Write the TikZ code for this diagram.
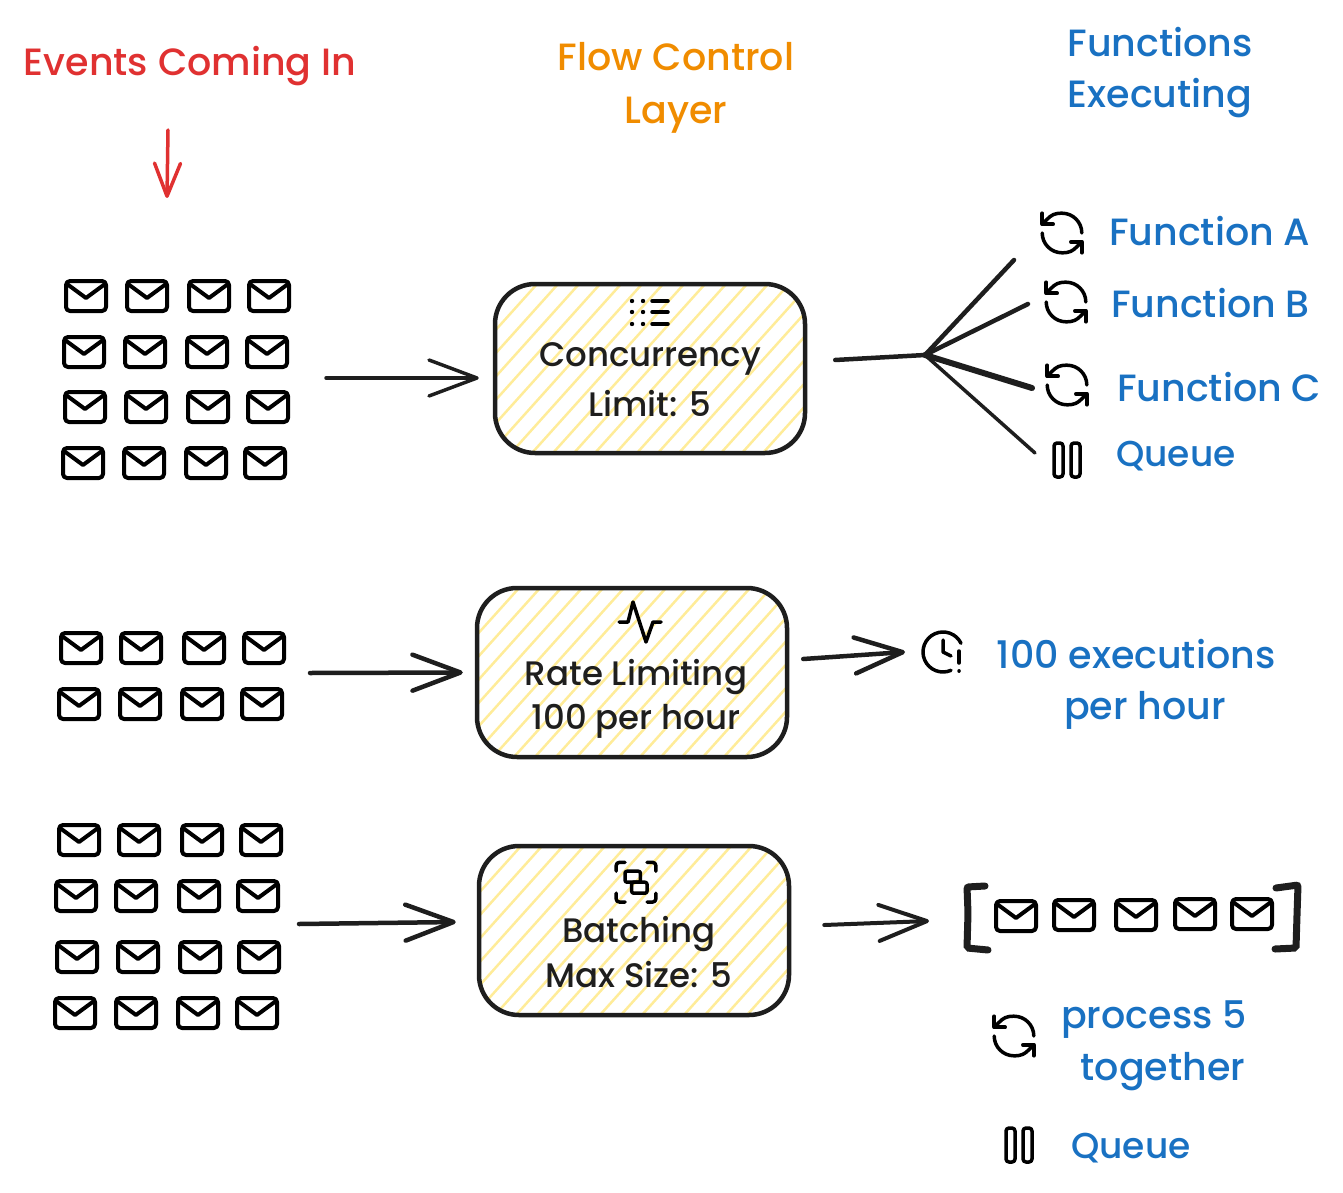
\documentclass[tikz,border=0pt]{standalone}
\usepackage{fontspec}
\setmainfont{Poppins Medium}
\usetikzlibrary{arrows.meta}

\definecolor{inkred}{HTML}{E03131}
\definecolor{inkorange}{HTML}{F08C00}
\definecolor{inkblue}{HTML}{1971C2}
\definecolor{inkblack}{HTML}{1E1E1E}
\definecolor{hatchyellow}{HTML}{FFEC99}

\tikzset{
  txt/.style={align=center,inner sep=0pt,font=\fontsize{#1}{#1}\selectfont},
  txt/.default=38,
  conn/.style={draw=inkblack,line width=4.5pt,line cap=round},
  arrowline/.style={conn,-{Straight Barb[round,length=48pt,width=36pt]}},
  limitbox/.style={draw=inkblack,line width=4.5pt,rounded corners=40pt,minimum width=310pt,minimum height=169pt,
    path picture={
      \foreach \d in {-252,-231,...,252}{
        \draw[hatchyellow,line width=2.5pt] (\d-90,100) -- (\d+90,-100);
      }
    }},
  icon/.style={line width=3.5pt,line cap=round,line join=round,black},
  mailicon/.pic={
    \draw[icon,line width=4pt,rounded corners=4pt] (-20,-15) rectangle (20,15);
    \draw[icon,line width=4pt] (-19,-12) -- (0,2) -- (19,-12);
  },
  refreshicon/.pic={
    \begin{scope}[x=2.2pt,y=-2.2pt,shift={(-12,-12)},icon]
    \draw (21,12) arc[start angle=0,end angle=-90,radius=9] .. controls (8.5,3) and (7.2,3.8) .. (5.26,5.74) -- (3,8);
    \draw (3,3) -- (3,8) -- (8,8);
    \draw (3,12) arc[start angle=180,end angle=90,radius=9] .. controls (15.5,21) and (16.8,20.2) .. (18.74,18.26) -- (21,16);
    \draw (16,16) -- (21,16) -- (21,21);
    \end{scope}
  },
  pauseicon/.pic={
    \draw[icon,rounded corners=3pt] (-13,-17) rectangle (-4,17);
    \draw[icon,rounded corners=3pt] (4,-17) rectangle (13,17);
  },
}

\begin{document}
\begin{tikzpicture}[x=1pt,y=-1pt]
\useasboundingbox (0,0) rectangle (1343,1193);

% column headings
\node[txt,inkred] (eventshead) at (190,66) {Events Coming In};
\node[txt,inkorange] (flowhead) at (676,88) {Flow Control\\[15pt]Layer};
\node[txt,inkblue] (funchead) at (1160,73) {Functions\\[13pt]Executing};

\coordinate (redtop) at (168,130);
\coordinate (redtip) at (167,198);
\draw[inkred,line width=3.5pt,line cap=round,-{Straight Barb[round,length=33pt,width=26pt]}] (redtop) -- (redtip);

% the three boxes
\node[limitbox] (conc) at (650,368.5) {};
\node[limitbox] (rate) at (632,672.5) {};
\node[limitbox] (batch) at (634,930.5) {};

\node[txt=34,inkblack] (conctext) at (650,380) {Concurrency\\[14pt]Limit: 5};
\node[txt=34,inkblack] (ratetext) at (636,699) {Rate Limiting\\[8pt]100 per hour};
\node[txt=34,inkblack] (batchtext) at (639,952) {Batching\\[8pt]Max Size: 5};

% icons in the boxes
\begin{scope}[icon]
\foreach \y in {301,312,324}{
  \fill (632,\y) circle (2.2pt);
  \fill (643,\y) circle (2.2pt);
  \draw (652,\y) -- (668,\y);
}
\draw (619,622) -- (628,622) -- (633,602) -- (646,642) -- (653,622) -- (661,622);
\begin{scope}[x=2.2pt,y=-2.2pt,shift={(277.1,389)}]
\draw[rounded corners=3pt] (3,7) -- (3,3) -- (7,3);
\draw[rounded corners=3pt] (17,3) -- (21,3) -- (21,7);
\draw[rounded corners=3pt] (21,17) -- (21,21) -- (17,21);
\draw[rounded corners=3pt] (7,21) -- (3,21) -- (3,17);
\draw[rounded corners=2pt] (7,7) rectangle (14,12);
\draw[rounded corners=2pt] (10,12) rectangle (17,17);
\end{scope}
\end{scope}

% events
\foreach \x/\y in {86/296,147/296,209/296,269/296,84/352,145/352,207/352,267/352,85/407,146/407,208/407,268/407,83/463,144/463,206/463,265/463}{
  \pic at (\x,\y) {mailicon};
}
\foreach \x/\y in {81/648,141/648,204/648,264/648,79/704,140/704,202/704,262/704}{
  \pic at (\x,\y) {mailicon};
}
\foreach \x/\y in {79/840,139/840,202/840,261/840,76/896,136/896,199/896,258/896,77/957,138/957,200/957,259/957,75/1013,136/1013,198/1013,257/1013}{
  \pic at (\x,\y) {mailicon};
}
\foreach \x/\y in {1016/916,1074/915,1136/915,1195/914,1252/914}{
  \pic at (\x,\y) {mailicon};
}

% arrows into and out of the boxes
\coordinate (concin) at (326,378);
\coordinate (ratein) at (310,673);
\coordinate (batchin) at (299,924);
\draw[arrowline,line width=3.5pt] (concin) -- ([xshift=-14pt,yshift=-9.5pt]conc.west);
\draw[arrowline] (ratein) -- ([xshift=-12pt]rate.west);
\draw[arrowline] (batchin) -- ([xshift=-21pt,yshift=8.5pt]batch.west);
\draw[arrowline] ([xshift=14pt,yshift=13.5pt]rate.east) -- (905,652);
\draw[arrowline,line width=4pt] ([xshift=33pt,yshift=5.5pt]batch.east) -- (929,921);

% fan out of concurrency
\coordinate (hub) at (925,355);
\coordinate (funcA) at (1014,260);
\coordinate (funcB) at (1028,304);
\coordinate (funcC) at (1032,388);
\coordinate (funcQ) at (1035,453);
\draw[conn] ([xshift=28pt,yshift=8.5pt]conc.east) -- (hub);
\draw[conn] (hub) -- (funcA);
\draw[conn] (hub) -- (funcB);
\draw[conn,line width=6pt] (hub) -- (funcC);
\draw[conn,line width=3.5pt] (hub) -- (funcQ);

\pic at (1062,233) {refreshicon};
\pic at (1066,302) {refreshicon};
\pic at (1067,385) {refreshicon};
\pic at (1067,460) {pauseicon};

\node[txt,inkblue,anchor=west] (funcAtext) at (1109,231) {Function A};
\node[txt,inkblue,anchor=west] (funcBtext) at (1111,303) {Function B};
\node[txt,inkblue,anchor=west] (funcCtext) at (1117,387) {Function C};
\node[txt=36,inkblue,anchor=west] (queuetext) at (1116,456) {Queue};

% rate output
\begin{scope}[x=2pt,y=-2pt,shift={(459.5,314)},icon]
\draw (12,6) -- (12,12) -- (16,14);
\draw (16,21.16) arc[start angle=66.4,end angle=334.2,radius=10];
\draw (20,11.5) -- (20,17.5);
\draw (20,21.5) -- (20.01,21.5);
\end{scope}
\node[txt,inkblue] (ratelabel) at (1136,684) {100 executions\\[13pt]\hspace*{18pt}per hour};

% batch output
\draw[conn,line width=7pt,rounded corners=2pt] (985,886) -- (967,887) -- (968,913) -- (967,948) -- (988,950);
\draw[conn,line width=7pt,rounded corners=2pt] (1276,888) -- (1298,885) -- (1297,915) -- (1296,948) -- (1275,949);
\pic at (1014,1036) {refreshicon};
\pic at (1019,1145) {pauseicon};
\node[txt,inkblue] (batchlabel) at (1154,1046) {process 5\\[13pt]\hspace*{18pt}together};
\node[txt=36,inkblue,anchor=west] (queuetextb) at (1071,1148) {Queue};
\end{tikzpicture}
\end{document}
